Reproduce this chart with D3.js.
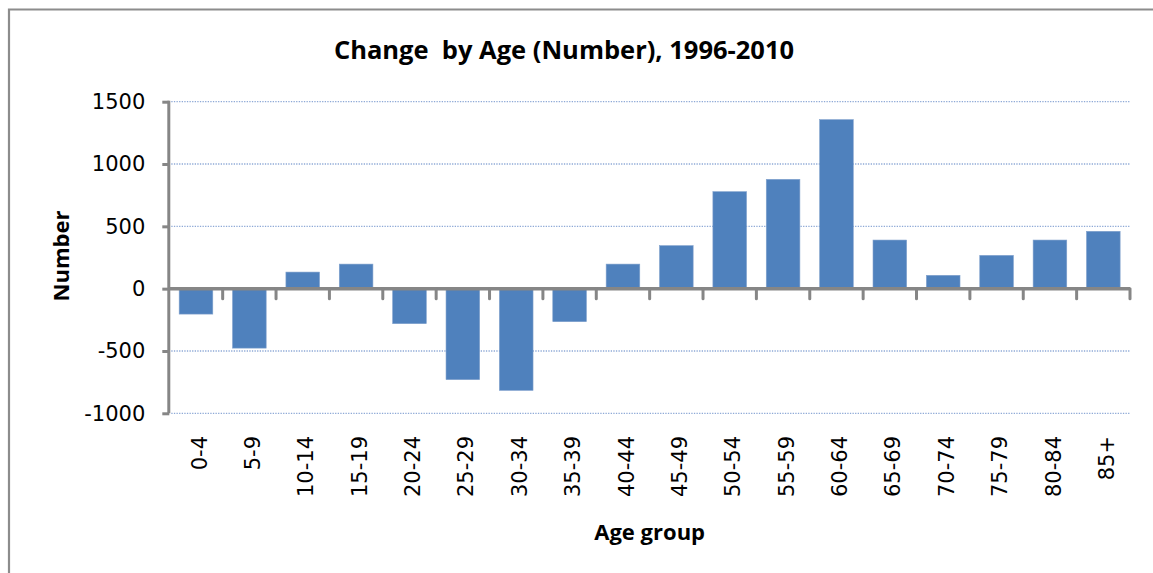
<!DOCTYPE html>
<html><head><meta charset="utf-8">
<script src="https://cdn.jsdelivr.net/npm/d3@7"></script>
<style>body{margin:0;background:#fff}svg{display:block}</style>
</head><body>
<svg id="c" width="1153" height="573"></svg>
<script>
const categories = ["0-4","5-9","10-14","15-19","20-24","25-29","30-34","35-39","40-44","45-49","50-54","55-59","60-64","65-69","70-74","75-79","80-84","85+"];
const values = [-204,-477,133,197,-281,-730,-816,-265,197,345,778,877,1356,390,107,267,390,460];
const yTicks = [-1000,-500,0,500,1000,1500];
const title = "Change\u00a0 by Age (Number), 1996-2010";
const xTitle = "Age group";
const yTitle = "Number";

const svg = d3.select("#c");
const pLeft = 169.3, pRight = 1130, pTop = 101.7, pBottom = 413.3;
const x = d3.scaleBand().domain(categories).range([pLeft, pRight]).paddingInner(0.37).paddingOuter(0.185);
const y = d3.scaleLinear().domain([-1000,1500]).range([pBottom, pTop]);

// frame
svg.append("path").attr("d","M9,580 V9.5 H1160").attr("fill","none").attr("stroke","#8c8c8c").attr("stroke-width",2.2);

// gridlines
svg.append("g").selectAll("line").data(yTicks.filter(d=>d!==0)).join("line")
  .attr("x1",pLeft+2).attr("x2",pRight).attr("y1",d=>y(d)).attr("y2",d=>y(d))
  .attr("stroke","#8ea9d6").attr("stroke-width",1.3).attr("stroke-dasharray","1.3,1.3");

// bars
svg.append("g").selectAll("rect").data(values).join("rect")
  .attr("x",(d,i)=>x(categories[i])).attr("width",x.bandwidth())
  .attr("y",d=>y(Math.max(0,d))).attr("height",d=>Math.abs(y(d)-y(0)))
  .attr("fill","#4f81bd").attr("stroke","#7fa0cc").attr("stroke-width",0.6);

// y axis
const yAxis = svg.append("g").attr("transform",`translate(${pLeft},0)`)
  .call(d3.axisLeft(y).tickValues(yTicks).tickSize(7).tickPadding(17).tickFormat(d=>String(d)));
yAxis.select(".domain").attr("stroke","#868686").attr("stroke-width",3).attr("d",`M-0.5,${pTop-1}V${pBottom}`);
yAxis.selectAll(".tick line").attr("stroke","#868686").attr("stroke-width",3);
yAxis.selectAll(".tick text").attr("font-family","DejaVu Sans").attr("font-size",21).attr("fill","#000");

// x axis at zero
const xAxis = svg.append("g").attr("transform",`translate(0,${y(0)})`)
  .call(d3.axisBottom(x).tickSize(0).tickFormat(""));
xAxis.select(".domain").attr("stroke","#868686").attr("stroke-width",3.5).attr("d",`M${pLeft},0H${pRight}`);
const boundaries = d3.range(1, categories.length+1).map(i => pLeft + i*x.step());
svg.append("g").selectAll("line").data(boundaries).join("line")
  .attr("x1",d=>d).attr("x2",d=>d).attr("y1",y(0)).attr("y2",y(0)+10)
  .attr("stroke","#868686").attr("stroke-width",3).attr("stroke-linecap","round");

// x tick labels rotated
svg.append("g").selectAll("text").data(categories).join("text")
  .attr("transform",d=>`translate(${x(d)+x.bandwidth()/2+3},436) rotate(-90)`)
  .attr("text-anchor","end").attr("dy","0.36em")
  .attr("font-family","DejaVu Sans").attr("font-size",21).attr("fill","#000")
  .text(d=>d);

// titles
svg.append("text").attr("x",564).attr("y",59).attr("text-anchor","middle")
  .attr("font-family","Open Sans").attr("font-weight","bold").attr("font-size",25.5).text(title);
svg.append("text").attr("x",(pLeft+pRight)/2).attr("y",540).attr("text-anchor","middle")
  .attr("font-family","Open Sans").attr("font-weight","bold").attr("font-size",22).text(xTitle);
svg.append("text").attr("transform","translate(69,256) rotate(-90)").attr("text-anchor","middle")
  .attr("font-family","Open Sans").attr("font-weight","bold").attr("font-size",22).text(yTitle);
</script>
</body></html>
